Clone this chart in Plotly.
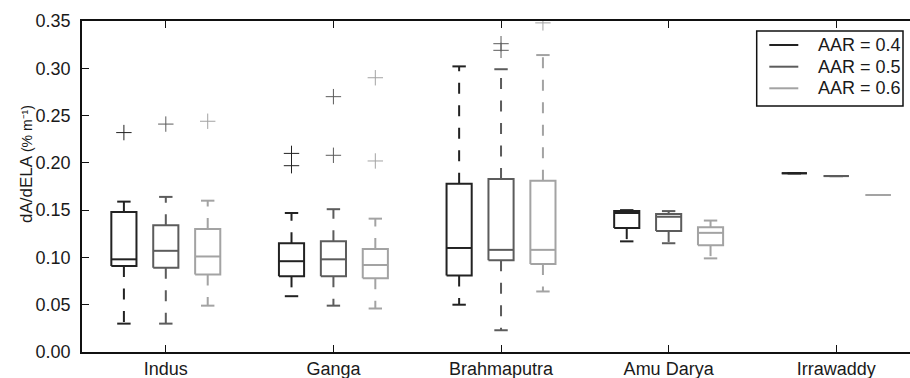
import plotly.graph_objects as go

# ---------------- data ----------------
categories = ["Indus", "Ganga", "Brahmaputra", "Amu Darya", "Irrawaddy"]
series_names = ["AAR = 0.4", "AAR = 0.5", "AAR = 0.6"]

# per-series box statistics, one value per category
q1_04 = [0.091, 0.080, 0.081, 0.131, 0.189]
med_04 = [0.098, 0.096, 0.110, 0.147, 0.189]
q3_04 = [0.148, 0.115, 0.178, 0.149, 0.189]
lo_04 = [0.030, 0.059, 0.050, 0.117, 0.189]
hi_04 = [0.159, 0.147, 0.302, 0.150, 0.189]
fl_04 = [[0.232], [0.210, 0.197], [], [], []]

q1_05 = [0.089, 0.080, 0.097, 0.128, 0.186]
med_05 = [0.107, 0.098, 0.108, 0.143, 0.186]
q3_05 = [0.134, 0.117, 0.183, 0.146, 0.186]
lo_05 = [0.030, 0.049, 0.023, 0.115, 0.186]
hi_05 = [0.164, 0.151, 0.299, 0.149, 0.186]
fl_05 = [[0.241], [0.208, 0.270], [0.326, 0.319], [], []]

q1_06 = [0.082, 0.078, 0.093, 0.113, 0.166]
med_06 = [0.101, 0.092, 0.108, 0.126, 0.166]
q3_06 = [0.130, 0.109, 0.181, 0.132, 0.166]
lo_06 = [0.049, 0.046, 0.064, 0.099, 0.166]
hi_06 = [0.160, 0.141, 0.314, 0.139, 0.166]
fl_06 = [[0.244], [0.202, 0.290], [0.348], [], []]

stats = [
    (q1_04, med_04, q3_04, lo_04, hi_04, fl_04),
    (q1_05, med_05, q3_05, lo_05, hi_05, fl_05),
    (q1_06, med_06, q3_06, lo_06, hi_06, fl_06),
]

# ---------------- style ----------------
colors = ["#222222", "#5c5c5c", "#a3a3a3"]
offsets = [-0.25, 0.0, 0.25]
box_w = 0.15
cap_w = 0.08
font_family = "Liberation Sans, Arial, sans-serif"

W, H = 910, 378
ML, MR, MT, MB = 82, 0, 21, 26
PW, PH = W - ML - MR, H - MT - MB


def px_x(px):
    return (px - ML) / PW


def px_y(py):
    return (H - MB - py) / PH


fig = go.Figure()

for s, (q1, med, q3, lo, hi, fl) in enumerate(stats):
    col = colors[s]
    sx, sy = [], []
    dx, dy = [], []
    fx, fy = [], []
    for i in range(len(categories)):
        p = i + 1 + offsets[s]
        a, b = p - box_w / 2, p + box_w / 2
        sx += [a, b, b, a, a, None]
        sy += [q1[i], q1[i], q3[i], q3[i], q1[i], None]
        sx += [a, b, None]
        sy += [med[i], med[i], None]
        sx += [p - cap_w / 2, p + cap_w / 2, None, p - cap_w / 2, p + cap_w / 2, None]
        sy += [lo[i], lo[i], None, hi[i], hi[i], None]
        dx += [p, p, None, p, p, None]
        dy += [q3[i], hi[i], None, q1[i], lo[i], None]
        for v in fl[i]:
            fx.append(p)
            fy.append(v)

    fig.add_trace(go.Scatter(
        x=dx, y=dy, mode="lines", showlegend=False, hoverinfo="skip",
        line=dict(color=col, width=2, dash="11px,11.5px"),
    ))
    fig.add_trace(go.Scatter(
        x=sx, y=sy, mode="lines", name=series_names[s], showlegend=False,
        line=dict(color=col, width=2), hoverinfo="skip",
    ))
    fig.add_trace(go.Scatter(
        x=fx, y=fy, mode="markers", showlegend=False,
        marker=dict(symbol="cross-thin", size=11, color=col,
                    line=dict(color=col, width=1)),
    ))

# ---------------- legend (drawn as a boxed key) ----------------
shapes = [dict(
    type="rect", xref="paper", yref="paper",
    x0=px_x(756.7), x1=px_x(903), y0=px_y(106), y1=px_y(31),
    line=dict(color="#111111", width=1.5), fillcolor="white", layer="above",
)]
annotations = []
row_y = [45, 66.7, 88.3]
for s, name in enumerate(series_names):
    shapes.append(dict(
        type="line", xref="paper", yref="paper",
        x0=px_x(769.3), x1=px_x(798.3), y0=px_y(row_y[s]), y1=px_y(row_y[s]),
        line=dict(color=colors[s], width=2), layer="above",
    ))
    annotations.append(dict(
        text=name, xref="paper", yref="paper", x=px_x(815.5), y=px_y(row_y[s]),
        xanchor="left", yanchor="middle", showarrow=False,
        font=dict(size=18, color="#1a1a1a"),
    ))

annotations.append(dict(
    text="dA/dELA <span style='font-size:14px'>(% m⁻¹)</span>",
    xref="paper", yref="paper", x=px_x(27), y=px_y(164),
    xanchor="center", yanchor="middle", textangle=-90, showarrow=False,
    font=dict(size=17, color="#1a1a1a"),
))

fig.update_layout(
    width=W, height=H, autosize=False,
    margin=dict(l=ML, r=MR, t=MT, b=MB),
    paper_bgcolor="white", plot_bgcolor="white",
    font=dict(family=font_family, size=18, color="#1a1a1a"),
    showlegend=False,
    xaxis=dict(
        range=[0.5, 5.44], tickmode="array", tickvals=[1, 2, 3, 4, 5],
        ticktext=categories, showgrid=False, zeroline=False,
        showline=True, linecolor="#111111", linewidth=1.5, mirror="ticks",
        ticks="inside", ticklen=7, tickwidth=1, tickcolor="#111111",
        tickfont=dict(size=18),
    ),
    yaxis=dict(
        range=[0, 0.35], dtick=0.05, tick0=0, tickformat=".2f",
        showgrid=False, zeroline=False,
        showline=True, linecolor="#111111", linewidth=1.5, mirror=False,
        ticks="inside", ticklen=7, tickwidth=1, tickcolor="#111111",
        tickfont=dict(size=18), ticklabelstandoff=6,
    ),
    shapes=shapes,
    annotations=annotations,
)

fig.write_html("out.html")
